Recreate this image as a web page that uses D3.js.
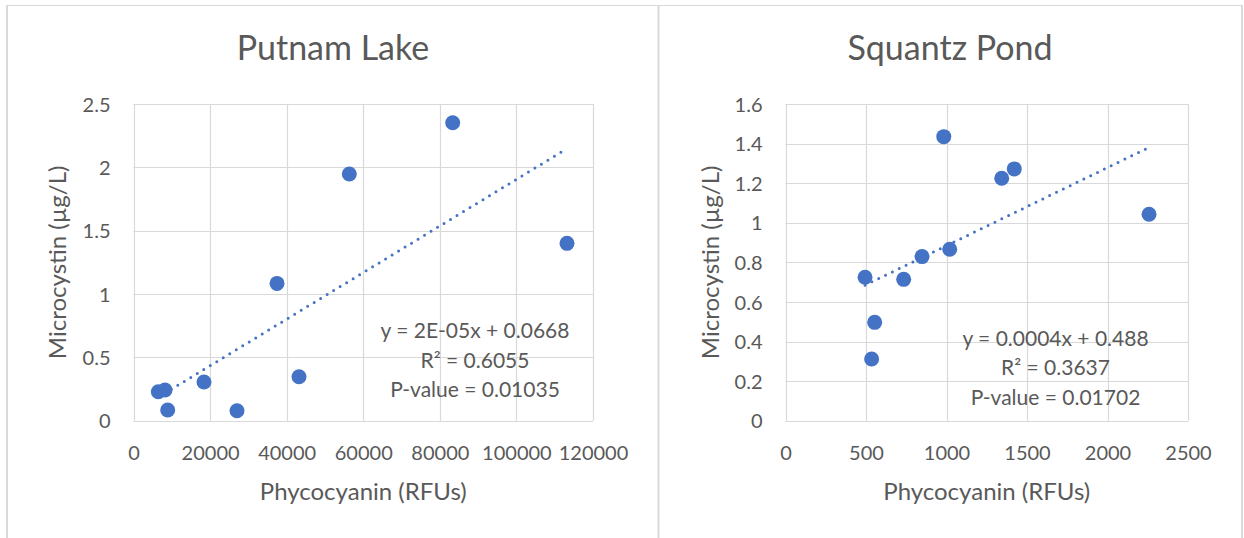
<!DOCTYPE html>
<html>
<head>
<meta charset="utf-8">
<script src="https://cdn.jsdelivr.net/npm/d3@7"></script>
<style>
  body { margin: 0; background: #fff; }
  text { font-family: Lato, "Open Sans", sans-serif; fill: #595959; }
</style>
</head>
<body>
<svg id="chart" width="1244" height="538"></svg>
<script>
// Putnam Lake
var putnamX = [6480, 8230, 8930, 18410, 27030, 37480, 43220, 56360, 83360, 113210]
var putnamY = [0.229, 0.242, 0.084, 0.305, 0.079, 1.084, 0.347, 1.947, 2.352, 1.40]
var putnamXTicks = [0, 20000, 40000, 60000, 80000, 100000, 120000]
var putnamYTicks = [0, 0.5, 1, 1.5, 2, 2.5]
var putnamStats = ["y = 2E-05x + 0.0668", "R² = 0.6055", "P-value = 0.01035"]

// Squantz Pond
var squantzX = [494, 554, 535, 734, 848, 1020, 983, 1343, 1421, 2258]
var squantzY = [0.725, 0.497, 0.312, 0.714, 0.829, 0.866, 1.435, 1.225, 1.272, 1.043]
var squantzXTicks = [0, 500, 1000, 1500, 2000, 2500]
var squantzYTicks = [0, 0.2, 0.4, 0.6, 0.8, 1, 1.2, 1.4, 1.6]
var squantzStats = ["y = 0.0004x + 0.488", "R² = 0.3637", "P-value = 0.01702"]

var xTitle = "Phycocyanin (RFUs)"
var yTitle = "Microcystin (µg/L)"

var svg = d3.select("#chart")
var grid = "#d9d9d9"

// panel frames
svg.append("line").attr("x1", 6).attr("x2", 1243).attr("y1", 5.5).attr("y2", 5.5)
   .style("stroke", grid).style("stroke-width", 1)
;[7, 658.5, 1242].forEach(function(x){
    svg.append("line").attr("x1", x).attr("x2", x).attr("y1", 5).attr("y2", 538)
       .style("stroke", grid).style("stroke-width", 2)
})

function drawPanel(p){
    var g = svg.append("g")

    var xScale = d3.scaleLinear()
                   .domain([p.xTicks[0], p.xTicks[p.xTicks.length - 1]])
                   .range([p.left, p.right])
    var yScale = d3.scaleLinear()
                   .domain([p.yTicks[0], p.yTicks[p.yTicks.length - 1]])
                   .range([p.bottom, p.top])

    // gridlines
    g.append("g").selectAll("line").data(p.xTicks).enter().append("line")
     .attr("x1", d => Math.round(xScale(d)) + 0.5)
     .attr("x2", d => Math.round(xScale(d)) + 0.5)
     .attr("y1", p.top).attr("y2", p.bottom)
     .style("stroke", grid).style("stroke-width", 1.2)
    g.append("g").selectAll("line").data(p.yTicks).enter().append("line")
     .attr("y1", d => Math.round(yScale(d)) + 0.5)
     .attr("y2", d => Math.round(yScale(d)) + 0.5)
     .attr("x1", p.left).attr("x2", p.right)
     .style("stroke", grid).style("stroke-width", 1.2)

    // axes (labels only, Excel style)
    var xAxis = g.append("g")
                 .attr("transform", "translate(0," + p.bottom + ")")
                 .call(d3.axisBottom(xScale).tickValues(p.xTicks).tickSize(0).tickPadding(28).tickFormat(d3.format("d")))
    var yAxis = g.append("g")
                 .attr("transform", "translate(" + p.left + ",0)")
                 .call(d3.axisLeft(yScale).tickValues(p.yTicks).tickSize(0).tickPadding(23).tickFormat(d => String(+d.toFixed(1))))
    ;[xAxis, yAxis].forEach(function(a){
        a.select(".domain").remove()
        a.selectAll("text").style("font-size", "20px").style("fill", "#595959")
         .style("font-family", "Lato, sans-serif")
    })
    yAxis.selectAll("text").attr("dy", "0.36em")
    xAxis.selectAll("text").attr("dy", "0.36em").attr("y", 32)

    // trendline (least squares)
    var mx = d3.mean(p.x), my = d3.mean(p.y)
    var sxy = d3.sum(p.x, (d, i) => (d - mx) * (p.y[i] - my))
    var sxx = d3.sum(p.x, d => (d - mx) * (d - mx))
    var slope = sxy / sxx, icpt = my - slope * mx
    var x0 = d3.min(p.x), x1 = d3.max(p.x)
    g.append("line")
     .attr("x1", xScale(x0)).attr("y1", yScale(slope * x0 + icpt))
     .attr("x2", xScale(x1)).attr("y2", yScale(slope * x1 + icpt))
     .style("stroke", "#4472c4").style("stroke-width", 3)
     .style("stroke-linecap", "round").style("stroke-dasharray", "0,7.6")

    // points
    g.append("g").selectAll("circle").data(p.x).enter().append("circle")
     .attr("cx", d => xScale(d))
     .attr("cy", (d, i) => yScale(p.y[i]))
     .attr("r", 7.5)
     .style("fill", "#4472c4")

    // stats text
    g.append("g").selectAll("text").data(p.stats).enter().append("text")
     .attr("x", p.statsX)
     .attr("y", (d, i) => p.statsY + i * 29.5)
     .attr("dy", "0.36em")
     .attr("text-anchor", "middle")
     .style("font-size", "21px")
     .text(d => d)

    // title
    g.append("text")
     .attr("x", p.titleX).attr("y", 60)
     .attr("text-anchor", "middle")
     .style("font-size", "34px")
     .text(p.title)

    // axis titles
    g.append("text")
     .attr("x", (p.left + p.right) / 2).attr("y", 500)
     .attr("text-anchor", "middle")
     .style("font-size", "24px")
     .text(xTitle)
    g.append("text")
     .attr("transform", "translate(" + p.yTitleX + "," + (p.top + p.bottom) / 2 + ") rotate(-90)")
     .attr("dy", "0.36em")
     .attr("text-anchor", "middle")
     .style("font-size", "24px")
     .text(yTitle)
}

drawPanel({
    title: "Putnam Lake", titleX: 333,
    x: putnamX, y: putnamY, xTicks: putnamXTicks, yTicks: putnamYTicks, stats: putnamStats,
    left: 133.5, right: 593, top: 104, bottom: 420.7,
    statsX: 475, statsY: 330.7, yTitleX: 57
})
drawPanel({
    title: "Squantz Pond", titleX: 950,
    x: squantzX, y: squantzY, xTicks: squantzXTicks, yTicks: squantzYTicks, stats: squantzStats,
    left: 785.5, right: 1188, top: 104, bottom: 420.7,
    statsX: 1055.5, statsY: 338, yTitleX: 710
})
</script>
</body>
</html>
